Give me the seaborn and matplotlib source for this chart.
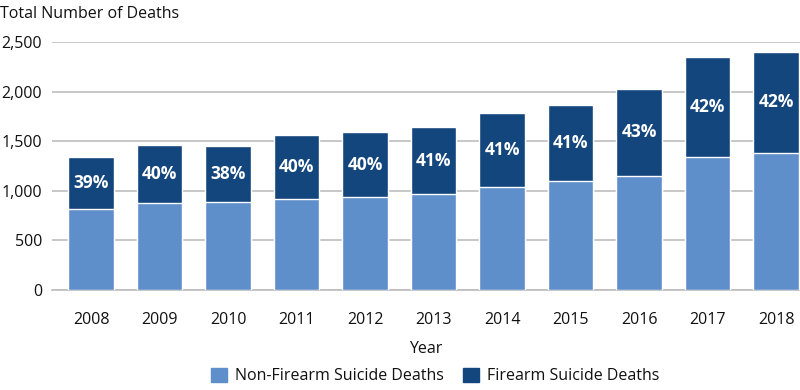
import matplotlib
matplotlib.use("Agg")
import matplotlib.pyplot as plt
import matplotlib.patches as mpatches
import pandas as pd
import seaborn as sns

# dados
anos = ["2008", "2009", "2010", "2011", "2012", "2013", "2014", "2015", "2016", "2017", "2018"]
nao_arma = [818, 881, 891, 922, 942, 965, 1039, 1102, 1153, 1344, 1384]
total = [1344, 1461, 1451, 1565, 1588, 1642, 1789, 1863, 2024, 2346, 2399]
pct_arma = ["39%", "40%", "38%", "40%", "40%", "41%", "41%", "41%", "43%", "42%", "42%"]

COR_CLARA = "#5e8fcb"
COR_ESCURA = "#12467c"
COR_TEXTO = "#111111"
TAM = 11.5

sns.set_theme(style="white")
plt.rcParams["font.family"] = ["Open Sans", "DejaVu Sans"]

df = pd.DataFrame({"Ano": anos, "NaoArma": nao_arma, "Total": total})

fig = plt.figure(figsize=(8, 3.9), dpi=100)
ax = fig.add_axes([0.065, 0.2564, 0.935, 0.6359])

# barras empilhadas: total (escura) por baixo, não-arma (clara) por cima
sns.barplot(data=df, x="Ano", y="Total", color=COR_ESCURA, saturation=1,
            width=0.67, ax=ax, zorder=2)
sns.barplot(data=df, x="Ano", y="NaoArma", color=COR_CLARA, saturation=1,
            width=0.67, ax=ax, zorder=3)

for i, (a, t, p) in enumerate(zip(nao_arma, total, pct_arma)):
    ax.text(i, (a + t) / 2, p, ha="center", va="center", color="white",
            fontsize=12.5, fontweight="bold", zorder=4)

ax.set_ylim(0, 2500)
ax.set_xlim(-0.57, 10.35)
ax.set_yticks([0, 500, 1000, 1500, 2000, 2500])
ax.set_yticklabels(["0", "500", "1,000", "1,500", "2,000", "2,500"])
ax.yaxis.grid(True, color="#bdbdbd", linewidth=1.2, zorder=0)
ax.set_axisbelow(True)
for s in ["top", "right", "left"]:
    ax.spines[s].set_visible(False)
ax.spines["bottom"].set_color("#bdbdbd")
ax.spines["bottom"].set_linewidth(1.2)
ax.tick_params(axis="both", length=0, labelsize=TAM, colors=COR_TEXTO)
ax.tick_params(axis="y", pad=7)
ax.tick_params(axis="x", pad=16)
ax.set_ylabel("")
ax.set_xlabel("Year", fontsize=TAM, color=COR_TEXTO, labelpad=9)

fig.text(0.0, 1 - 14 / 390, "Total Number of Deaths", ha="left", va="center",
         fontsize=TAM, color=COR_TEXTO)

handles = [mpatches.Patch(color=COR_CLARA, label="Non-Firearm Suicide Deaths"),
           mpatches.Patch(color=COR_ESCURA, label="Firearm Suicide Deaths")]
fig.legend(handles=handles, loc="center", bbox_to_anchor=(435 / 800, 1 - 376 / 390),
           ncol=2, frameon=False, fontsize=TAM, handlelength=1.0, handleheight=1.0,
           handletextpad=0.5, columnspacing=1.2, labelcolor=COR_TEXTO)

fig.savefig("out.png", dpi=100)
